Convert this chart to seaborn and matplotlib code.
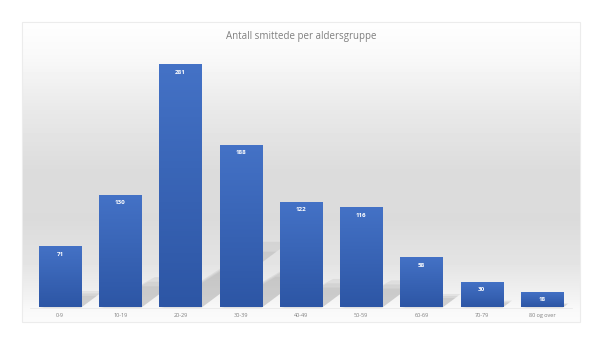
import numpy as np
import pandas as pd
import matplotlib
matplotlib.use("Agg")
import matplotlib.pyplot as plt
import seaborn as sns
from matplotlib.colors import LinearSegmentedColormap
from matplotlib.patches import Rectangle, Polygon

# ---- data ----
age_groups = ["0-9", "10-19", "20-29", "30-39", "40-49", "50-59", "60-69", "70-79", "80 og over"]
infected = [71, 130, 281, 188, 122, 116, 58, 30, 18]
title = "Antall smittede per aldersgruppe"

df = pd.DataFrame({"Aldersgruppe": age_groups, "Smittede": infected})

sns.set_theme(style="white")
plt.rcParams["font.family"] = ["Open Sans", "DejaVu Sans"]

W, H = 600, 338
fig = plt.figure(figsize=(6, 3.38), dpi=100)
fig.patch.set_facecolor("white")

# ---- background (chart area with soft gray gradient) ----
bg = fig.add_axes([0, 0, 1, 1], zorder=0)
bg.set_xlim(0, W)
bg.set_ylim(H, 0)
bg.axis("off")
ys = np.linspace(22, 322, 300)
ctrl_y = [22, 55, 110, 170, 220, 265, 295, 308, 322]
ctrl_v = [254, 249, 233, 220, 219, 228, 241, 248, 251]
vals = np.interp(ys, ctrl_y, ctrl_v) / 255.0
grad = vals[:, None]
bg.imshow(grad, extent=[22, 580, 322, 22], cmap="gray", vmin=0, vmax=1,
          aspect="auto", interpolation="nearest")
bg.add_patch(Rectangle((22, 22), 558, 300, fill=False, edgecolor="#ececec", lw=0.8))
bg.set_xlim(0, W)
bg.set_ylim(H, 0)

fig.text(301 / W, 1 - 36 / H, title, ha="center", va="center",
         fontsize=7, color="#7f7f7f")

# ---- main axes ----
ax = fig.add_axes([30 / W, 30.5 / H, 542 / W, 259.8 / H], zorder=1)
ax.set_facecolor("none")
sns.barplot(data=df, x="Aldersgruppe", y="Smittede", color="#3d68bb",
            width=0.7, ax=ax, zorder=3)
ax.set_xlim(-0.5, 8.5)
ax.set_ylim(0, 300)

bar_cmap = LinearSegmentedColormap.from_list("bar", ["#2d56a5", "#4472c6"])
shadow_col = "#8c8c8c"
for patch, h in zip(ax.patches, infected):
    x0 = patch.get_x()
    w = patch.get_width()
    x1 = x0 + w
    # soft shadow cast towards upper right
    dx = 0.0052 * h
    dy = 0.27 * h
    for k, a in [(1.0, 0.14), (0.85, 0.14), (0.7, 0.14)]:
        poly = Polygon([(x0 + w * (1 - k) * 0.3, 0), (x1, 0),
                        (x1 + dx * k, dy * k),
                        (x0 + dx * k + w * 0.35, dy * k)],
                       closed=True, facecolor=shadow_col, edgecolor="none",
                       alpha=a, zorder=1.5)
        ax.add_patch(poly)
    # gradient fill
    g = np.linspace(1, 0, 100)[:, None]
    im = ax.imshow(g, extent=[x0, x1, 0, h], cmap=bar_cmap, aspect="auto",
                   zorder=3, vmin=0, vmax=1, interpolation="nearest")
    im.set_clip_path(patch)
    patch.set_facecolor("none")
    patch.set_edgecolor("none")
    ax.annotate(str(h), xy=(x0 + w / 2, h), xytext=(0, -5.8),
                textcoords="offset points", ha="center", va="center",
                fontsize=4.5, fontweight="bold", color="white", zorder=4)

ax.set_xlim(-0.5, 8.5)
ax.set_ylim(0, 300)
ax.set_xlabel("")
ax.set_ylabel("")
ax.set_yticks([])
ax.tick_params(axis="x", length=0, pad=4, labelsize=4, labelcolor="#7f7f7f")
for s in ["top", "left", "right"]:
    ax.spines[s].set_visible(False)
ax.spines["bottom"].set_color("#e6e6e6")
ax.spines["bottom"].set_linewidth(0.5)

fig.savefig("out.png", dpi=100)
